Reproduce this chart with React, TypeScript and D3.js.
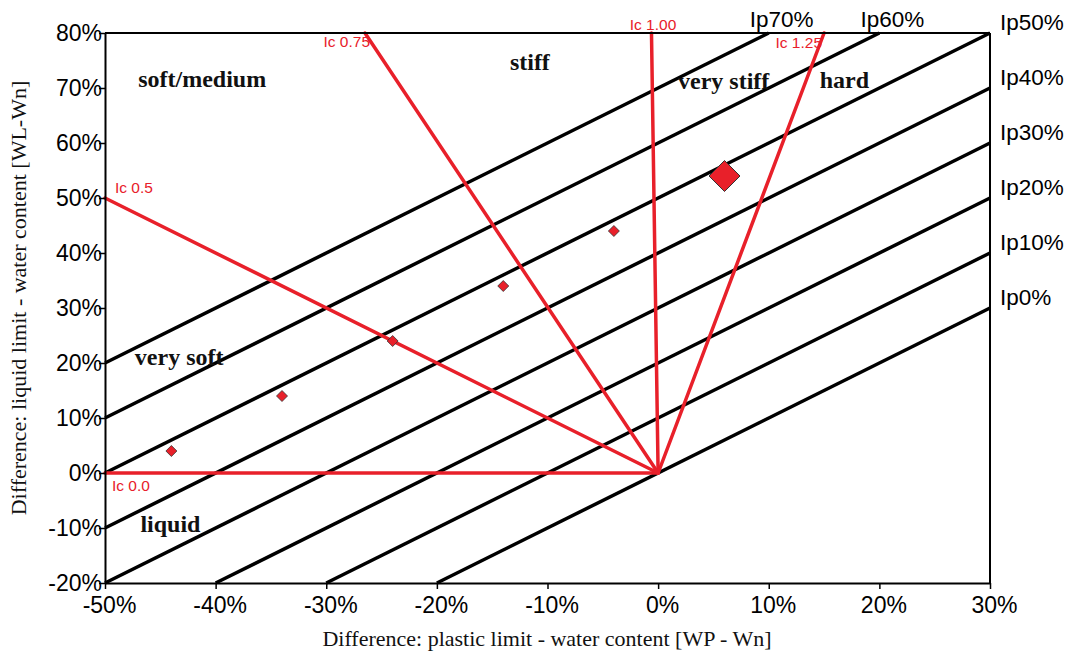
import React, { useEffect, useRef } from 'react';
import * as d3 from 'd3';

// Ip lines: y = x + Ip, clipped to the frame
const ipLevels = [0, 10, 20, 30, 40, 50, 60, 70];
const ipLabels = ['Ip0%', 'Ip10%', 'Ip20%', 'Ip30%', 'Ip40%', 'Ip50%', 'Ip60%', 'Ip70%'];

// Ic lines from the origin to their far end [x, y]
const icNames = ['Ic 0.0', 'Ic 0.5', 'Ic 0.75', 'Ic 1.00', 'Ic 1.25'];
const icEnds: [number, number][] = [[-50, 0], [-50, 50], [-26.5, 80], [-0.6, 80], [15, 80]];

// samples [WP-Wn, WL-Wn]
const sampleX = [-44, -34, -24, -14, -4];
const sampleY = [4, 14, 24, 34, 44];
const meanPoint: [number, number] = [6, 54];

const regionNames = ['soft/medium', 'stiff', 'very stiff', 'hard', 'very soft', 'liquid'];
const regionPos: [number, number][] = [[-47, 70.2], [-13.4, 73.2], [1.8, 69.8], [14.6, 70.0], [-47.3, 19.6], [-46.8, -10.7]];

const xTicks = [-50, -40, -30, -20, -10, 0, 10, 20, 30];
const yTicks = [-20, -10, 0, 10, 20, 30, 40, 50, 60, 70, 80];

const RED = '#e8202a';

export default function App() {
  const svgRef = useRef<SVGSVGElement>(null);

  useEffect(() => {
    const width = 1075, height = 657;
    const svg = d3.select(svgRef.current);
    svg.selectAll('*').remove();

    const x = d3.scaleLinear().domain([-50, 30]).range([105, 990]);
    const y = d3.scaleLinear().domain([-20, 80]).range([583, 33]);

    const g = svg.append('g');

    // Ip lines
    ipLevels.forEach((ip, i) => {
      const x0 = ip === 0 ? -20 : Math.max(-50, -20 - ip);
      const x1 = Math.min(30, 80 - ip);
      g.append('line')
        .attr('x1', x(x0)).attr('y1', y(x0 + ip))
        .attr('x2', x(x1)).attr('y2', y(x1 + ip))
        .attr('stroke', '#000').attr('stroke-width', 3.5);
      const atRight = x1 === 30;
      g.append('text')
        .attr('x', atRight ? 1000 : x(x1) - 19)
        .attr('y', atRight ? y(x1 + ip) - 3 : 27)
        .attr('font-family', 'Arial, "Liberation Sans", sans-serif')
        .attr('font-size', 22.5)
        .attr('fill', '#000')
        .text(ipLabels[i]);
    });

    // Ic lines
    icEnds.forEach(e => {
      g.append('line')
        .attr('x1', x(0)).attr('y1', y(0))
        .attr('x2', x(e[0])).attr('y2', y(e[1]))
        .attr('stroke', RED).attr('stroke-width', 3.5)
        .attr('stroke-linecap', 'round');
    });

    const icLabelPos: [number, number, string][] = [
      [112, 491, 'start'],
      [115, 193, 'start'],
      [370, 47, 'end'],
      [653, 30, 'middle'],
      [822, 48, 'end']
    ];
    icLabelPos.forEach((p, i) => {
      g.append('text')
        .attr('x', p[0]).attr('y', p[1])
        .attr('text-anchor', p[2])
        .attr('font-family', 'Arial, "Liberation Sans", sans-serif')
        .attr('font-size', 15.5)
        .attr('fill', RED)
        .text(icNames[i]);
    });

    // frame top + right
    g.append('line').attr('x1', x(-50)).attr('x2', x(30)).attr('y1', y(80)).attr('y2', y(80))
      .attr('stroke', '#000').attr('stroke-width', 2);
    g.append('line').attr('x1', x(30)).attr('x2', x(30)).attr('y1', y(80)).attr('y2', y(-20))
      .attr('stroke', '#000').attr('stroke-width', 2);

    // axes
    const xAxis = g.append('g')
      .attr('transform', `translate(0,${y(-20)})`)
      .call(d3.axisBottom(x).tickValues(xTicks).tickSize(6).tickSizeOuter(0).tickFormat(d => `${d}%`));
    const yAxis = g.append('g')
      .attr('transform', `translate(${x(-50)},0)`)
      .call(d3.axisLeft(y).tickValues(yTicks).tickSize(6).tickSizeOuter(0).tickFormat(d => `${d}%`));
    [xAxis, yAxis].forEach(a => {
      a.select('.domain').attr('stroke', '#000').attr('stroke-width', 2);
      a.selectAll('.tick line').attr('stroke', '#000').attr('stroke-width', 1.5);
      a.selectAll('.tick text')
        .attr('font-family', 'Arial, "Liberation Sans", sans-serif')
        .attr('font-size', 23)
        .attr('fill', '#000');
    });
    xAxis.selectAll('.tick text').attr('dy', '0.9em').attr('x', 4);
    yAxis.selectAll('.tick text').attr('x', -3);

    // region labels
    regionNames.forEach((n, i) => {
      g.append('text')
        .attr('x', x(regionPos[i][0])).attr('y', y(regionPos[i][1]))
        .attr('font-family', '"Liberation Serif", "Times New Roman", serif')
        .attr('font-weight', 'bold')
        .attr('font-size', 24)
        .attr('fill', '#111')
        .text(n);
    });

    // samples
    const diamond = (r: number) => `M0,${-r}L${r},0L0,${r}L${-r},0Z`;
    sampleX.forEach((sx, i) => {
      g.append('path')
        .attr('d', diamond(5.5))
        .attr('transform', `translate(${x(sx)},${y(sampleY[i])})`)
        .attr('fill', RED).attr('stroke', '#333').attr('stroke-width', 0.8);
    });
    g.append('path')
      .attr('d', diamond(15.5))
      .attr('transform', `translate(${x(meanPoint[0])},${y(meanPoint[1])})`)
      .attr('fill', RED).attr('stroke', '#333').attr('stroke-width', 1);

    // axis titles
    g.append('text')
      .attr('x', 547).attr('y', 646)
      .attr('text-anchor', 'middle')
      .attr('font-family', '"Liberation Serif", "Times New Roman", serif')
      .attr('font-size', 22)
      .attr('fill', '#111')
      .text('Difference: plastic limit - water content [WP - Wn]');
    g.append('text')
      .attr('transform', 'translate(26,298) rotate(-90)')
      .attr('text-anchor', 'middle')
      .attr('font-family', '"Liberation Serif", "Times New Roman", serif')
      .attr('font-size', 22)
      .attr('fill', '#111')
      .text('Difference: liquid limit - water content [WL-Wn]');

    svg.attr('width', width).attr('height', height);
  }, []);

  return (
    <svg ref={svgRef} width={1075} height={657}
      style={{ position: 'absolute', left: 0, top: 0, background: '#fff' }} />
  );
}
